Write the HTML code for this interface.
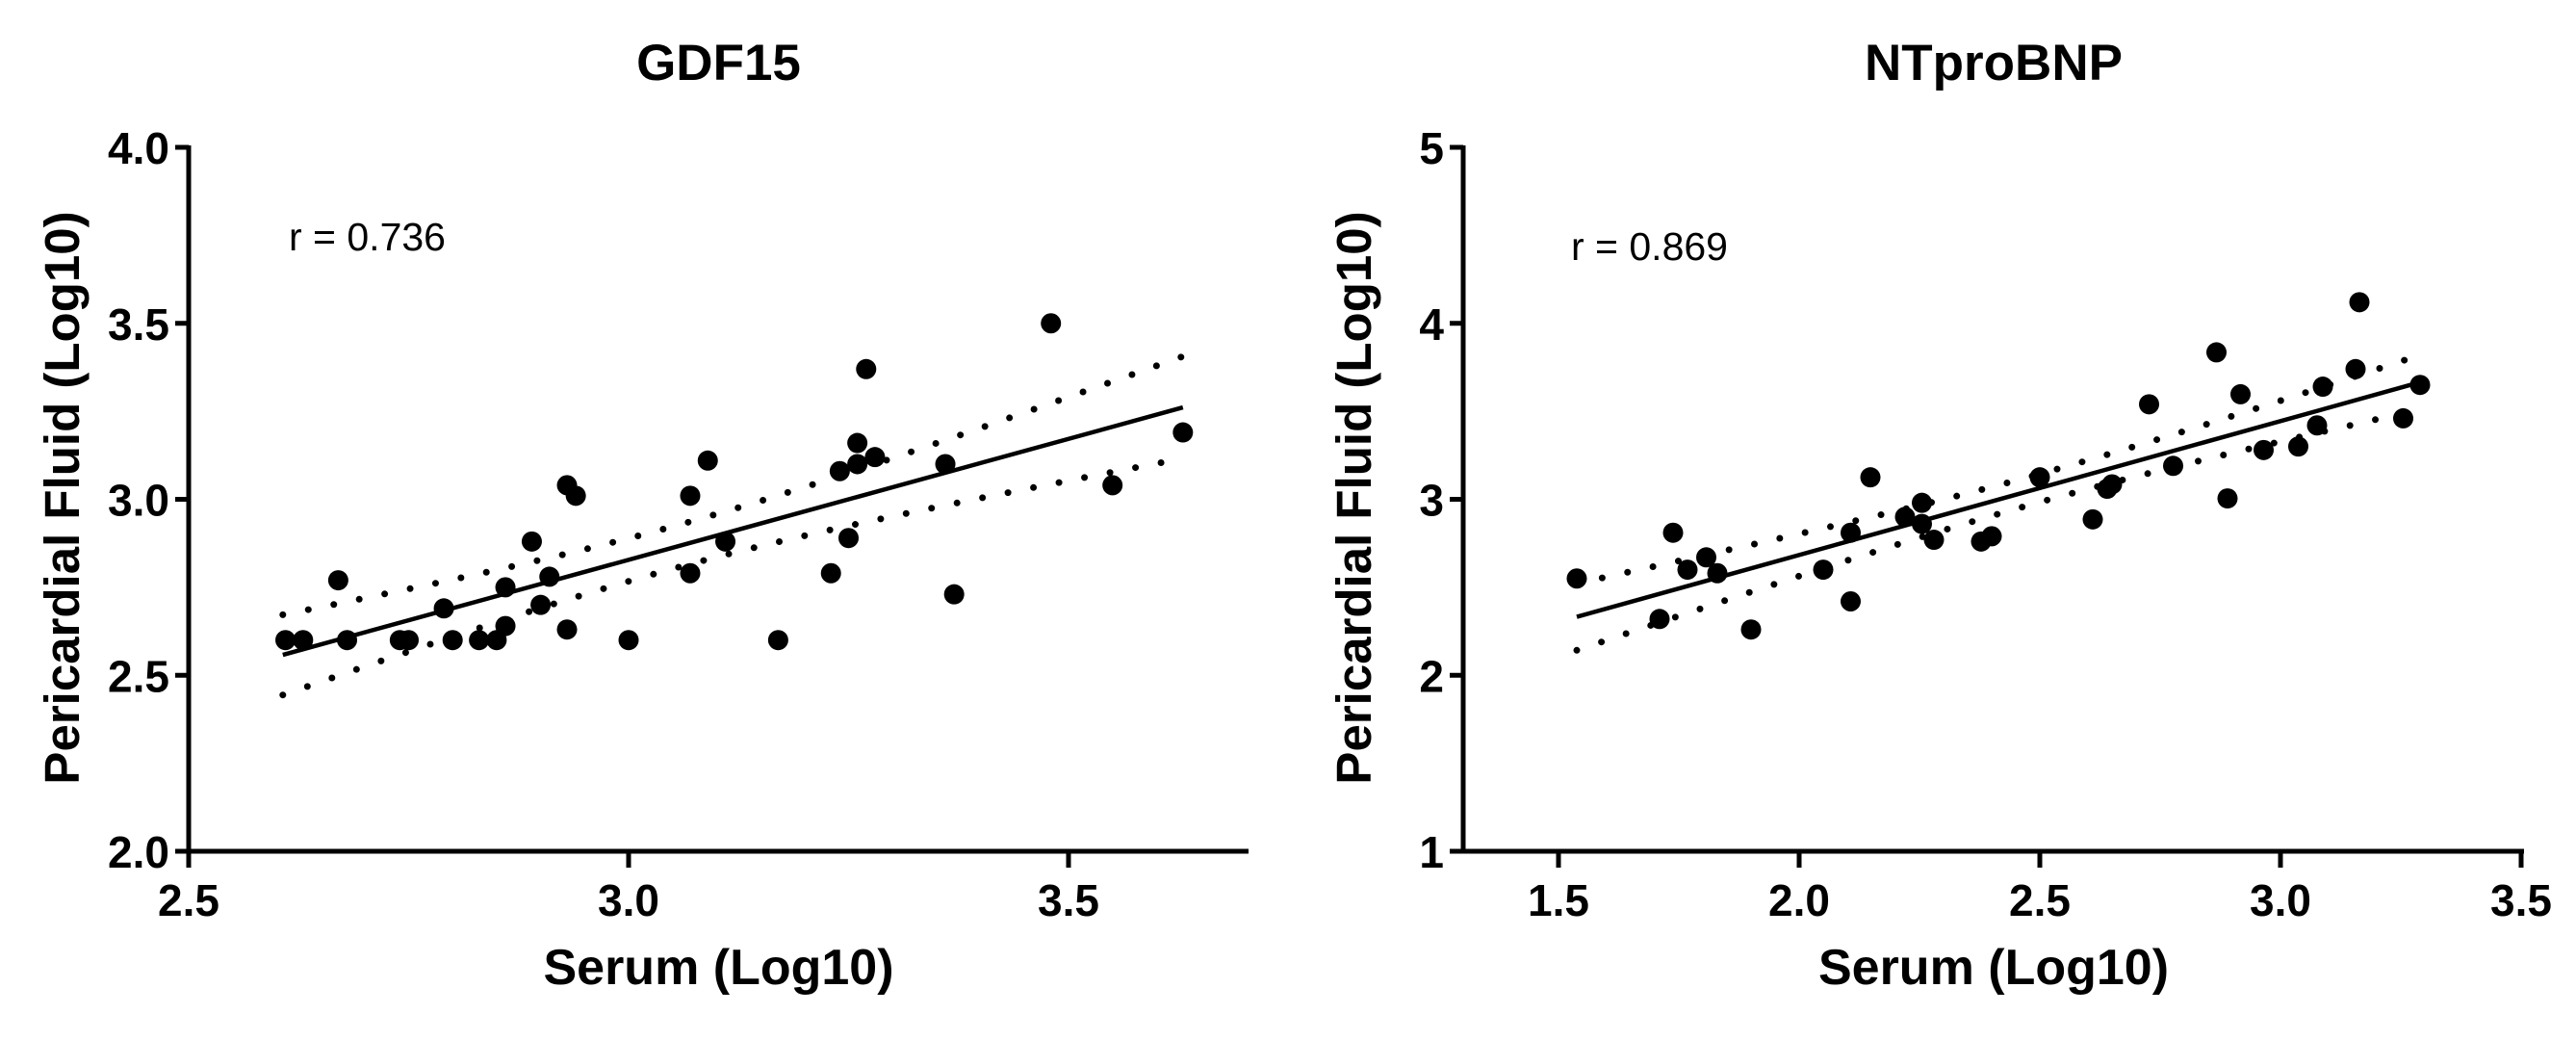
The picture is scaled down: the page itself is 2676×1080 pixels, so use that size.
<!DOCTYPE html>
<html><head><meta charset="utf-8">
<style>
html,body{margin:0;padding:0;background:#fff;}
svg{display:block;font-family:"Liberation Sans",Arial,sans-serif;}
</style></head>
<body>
<svg id="chart" width="2676" height="1080" viewBox="0 0 2676 1080" xmlns="http://www.w3.org/2000/svg"></svg>
<script>
// ---- GDF15 data ----
const gdfX = [2.61,2.63,2.67,2.68,2.74,2.75,2.79,2.80,2.83,2.85,2.86,2.86,2.89,2.90,2.91,2.93,2.93,2.94,3.00,3.07,3.07,3.09,3.11,3.17,3.23,3.24,3.25,3.26,3.26,3.27,3.28,3.36,3.37,3.48,3.55,3.63];
const gdfY = [2.60,2.60,2.77,2.60,2.60,2.60,2.69,2.60,2.60,2.60,2.64,2.75,2.88,2.70,2.78,2.63,3.04,3.01,2.60,3.01,2.79,3.11,2.88,2.60,2.79,3.08,2.89,3.16,3.10,3.37,3.12,3.10,2.73,3.50,3.04,3.19];
const gdfFit = [2.607, 2.558, 3.630, 3.261]; // x1,y1,x2,y2
const gdfBandX = [2.607, 3.05, 3.630];
const gdfBandHalf = [0.114, 0.06, 0.145];
const gdfXTicks = ["2.5","3.0","3.5"];
const gdfYTicks = ["2.0","2.5","3.0","3.5","4.0"];
// ---- NTproBNP data ----
const bnpX = [1.538,1.71,1.738,1.768,1.807,1.83,1.90,2.05,2.107,2.107,2.148,2.22,2.255,2.255,2.28,2.378,2.40,2.50,2.61,2.64,2.65,2.727,2.777,2.867,2.89,2.917,2.965,3.037,3.076,3.088,3.156,3.164,3.255,3.29];
const bnpY = [2.55,2.32,2.81,2.60,2.67,2.58,2.26,2.60,2.81,2.42,3.125,2.90,2.98,2.86,2.77,2.76,2.79,3.125,2.886,3.06,3.085,3.54,3.19,3.835,3.005,3.597,3.28,3.30,3.42,3.64,3.74,4.12,3.46,3.65];
const bnpFit = [1.538, 2.332, 3.29, 3.665];
const bnpBandX = [1.538, 2.5, 3.29];
const bnpBandHalf = [0.19, 0.08, 0.155];
const bnpXTicks = ["1.5","2.0","2.5","3.0","3.5"];
const bnpYTicks = ["1","2","3","4","5"];

const NS = "http://www.w3.org/2000/svg";
const svg = document.getElementById('chart');
function mk(tag, attrs, parent){
  const e = document.createElementNS(NS, tag);
  for (const k in attrs) e.setAttribute(k, attrs[k]);
  (parent||svg).appendChild(e);
  return e;
}

function panel(cfg){
  const g = mk('g', {});
  
  
  const sx = v => cfg.x0 + (v - cfg.xmin) / (cfg.xmax - cfg.xmin) * (cfg.x1 - cfg.x0);
  const sy = v => cfg.y0 - (v - cfg.ymin) / (cfg.ymax - cfg.ymin) * (cfg.y0 - cfg.y1);
  const t = mk('text', {x: (cfg.x0 + cfg.xEnd)/2, y: 83, 'text-anchor':'middle', 'font-size':53, 'font-weight':'bold', fill:'#000'}, g);
  t.textContent = cfg.title;
  
  
  const ya = mk('line', {x1: cfg.x0, y1: cfg.y1 - 2, x2: cfg.x0, y2: cfg.y0 + 2.5, stroke:'#000', 'stroke-width':5}, g);
  
  
  const xa = mk('line', {x1: cfg.x0 - 2.5, y1: cfg.y0, x2: cfg.xEnd, y2: cfg.y0, stroke:'#000', 'stroke-width':5}, g);
  
  
  cfg.yTicks.forEach(lbl => {
    const v = parseFloat(lbl), py = sy(v);
    const tk = mk('line', {x1: cfg.x0 - 14, y1: py, x2: cfg.x0, y2: py, stroke:'#000', 'stroke-width':5}, g);
    
    
    const tl = mk('text', {x: cfg.x0 - 20, y: py + 17, 'text-anchor':'end', 'font-size':46, 'font-weight':'bold', fill:'#000'}, g);
    tl.textContent = lbl;
    
    
  });
  cfg.xTicks.forEach(lbl => {
    const v = parseFloat(lbl), px = sx(v);
    const tk = mk('line', {x1: px, y1: cfg.y0, x2: px, y2: cfg.y0 + 17, stroke:'#000', 'stroke-width':5}, g);
    
    
    const tl = mk('text', {x: px, y: 951, 'text-anchor':'middle', 'font-size':46, 'font-weight':'bold', fill:'#000'}, g);
    tl.textContent = lbl;
    
    
  });
  const xt = mk('text', {x: (cfg.x0 + cfg.xEnd)/2, y: 1022, 'text-anchor':'middle', 'font-size':52, 'font-weight':'bold', fill:'#000'}, g);
  xt.textContent = 'Serum (Log10)';
  
  
  const yt = mk('text', {x: 0, y: 0, 'text-anchor':'middle', 'font-size':51, 'font-weight':'bold', fill:'#000', transform:`translate(${cfg.yTitleX},517) rotate(-90)`}, g);
  yt.textContent = 'Pericardial Fluid (Log10)';
  
  
  const rl = mk('text', {x: cfg.rX, y: cfg.rY, 'font-size':41, fill:'#000'}, g);
  rl.textContent = cfg.rText;
  
  
  const f = cfg.fit;
  const slope = (f[3]-f[1])/(f[2]-f[0]);
  const lineY = x => f[1] + slope*(x - f[0]);
  const rl2 = mk('line', {x1: sx(f[0]), y1: sy(f[1]), x2: sx(f[2]), y2: sy(f[3]), stroke:'#000', 'stroke-width':4.5}, g);
  
  
  const bx = cfg.bandX, bh = cfg.bandHalf;
  const kL = (bh[0]*bh[0] - bh[1]*bh[1]) / Math.pow(bx[0]-bx[1],2);
  const kR = (bh[2]*bh[2] - bh[1]*bh[1]) / Math.pow(bx[2]-bx[1],2);
  const half = x => Math.sqrt(bh[1]*bh[1] + (x < bx[1] ? kL : kR) * Math.pow(x - bx[1],2));
  [1,-1].forEach(sgn => {
    let d = '';
    const N = 60;
    for (let i = 0; i <= N; i++){
      const x = bx[0] + (bx[2]-bx[0])*i/N;
      const y = lineY(x) + sgn*half(x);
      d += (i ? 'L' : 'M') + sx(x).toFixed(1) + ',' + sy(y).toFixed(1);
    }
    const p = mk('path', {d, fill:'none', stroke:'#000', 'stroke-width':7, 'stroke-linecap':'round', 'stroke-dasharray':'0 27'}, g);
    
    
  });
  cfg.xs.forEach((xv, i) => {
    const c = mk('circle', {cx: sx(xv), cy: sy(cfg.ys[i]), r: 10.5, fill:'#000'}, g);
    
    
  });
}

panel({name:'gdf15', title:'GDF15', x0:196, x1:653, xmin:2.5, xmax:3.0, xEnd:1297,
  y0:884, y1:153, ymin:2.0, ymax:4.0, xTicks:gdfXTicks, yTicks:gdfYTicks,
  xs:gdfX, ys:gdfY, fit:gdfFit, bandX:gdfBandX, bandHalf:gdfBandHalf,
  rText:'r = 0.736', rX:300, rY:260, yTitleX:82});
panel({name:'ntprobnp', title:'NTproBNP', x0:1520, x1:1619, xmin:1.302, xmax:1.5, xEnd:2622,
  y0:884, y1:153, ymin:1, ymax:5, xTicks:bnpXTicks, yTicks:bnpYTicks,
  xs:bnpX, ys:bnpY, fit:bnpFit, bandX:bnpBandX, bandHalf:bnpBandHalf,
  rText:'r = 0.869', rX:1632, rY:270, yTitleX:1424});
</script>
</body></html>
